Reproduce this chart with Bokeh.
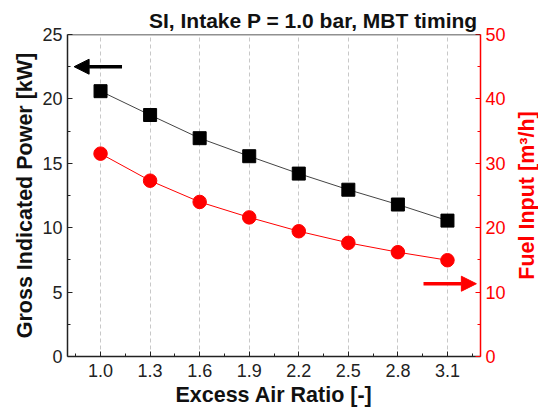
from bokeh.plotting import figure
from bokeh.layouts import row
from bokeh.models import (Range1d, LinearAxis, FixedTicker, Span, Arrow,
                          NormalHead, ColumnDataSource)
from bokeh.embed import file_html
from bokeh.resources import INLINE

# ---- data ----
excess_air = [1.0, 1.3, 1.6, 1.9, 2.2, 2.5, 2.8, 3.1]
gross_power_kw = [20.6, 18.75, 16.95, 15.55, 14.2, 12.95, 11.8, 10.55]
fuel_input_m3h = [31.5, 27.3, 24.0, 21.6, 19.45, 17.65, 16.2, 14.95]
x_tick_labels = ["1.0", "1.3", "1.6", "1.9", "2.2", "2.5", "2.8", "3.1"]
title_text = "SI, Intake P = 1.0 bar, MBT timing"
fuel_label = "Fuel Input [m\u00b3/h]"

FONT = "Liberation Sans"
RED = "#ff0000"
TOP, BOTTOM = 34, 57

p = figure(width=512, height=413, output_backend="svg", toolbar_location=None,
           x_range=Range1d(0.8, 3.3), y_range=Range1d(0, 25),
           min_border_left=67, min_border_right=32, min_border_top=TOP,
           min_border_bottom=BOTTOM, title=title_text)
p.extra_y_ranges = {"fuel": Range1d(0, 50)}
p.outline_line_color = None
p.background_fill_color = "white"
p.border_fill_color = "white"

p.title.align = "right"
p.title.text_font = FONT
p.title.text_font_size = "21px"
p.title.text_font_style = "bold"
p.title.text_color = "#111111"
p.title.standoff = 6
p.title.offset = 3

# grids
p.ygrid.visible = False
p.xgrid.ticker = FixedTicker(ticks=excess_air)
p.xgrid.grid_line_color = "#c8c8c8"
p.xgrid.grid_line_dash = "4 3"
p.xgrid.grid_line_width = 1

# x axis
xa = p.xaxis[0]
xa.ticker = FixedTicker(ticks=excess_air,
                        minor_ticks=[round(v + 0.15, 2) for v in excess_air] + [0.85])
xa.major_label_overrides = {v: s for v, s in zip(excess_air, x_tick_labels)}
xa.axis_label = "Excess Air Ratio [-]"

# left y axis
ya = p.yaxis[0]
ya.ticker = FixedTicker(ticks=[0, 5, 10, 15, 20, 25], minor_ticks=[2.5, 7.5, 12.5, 17.5, 22.5])
ya.axis_label = "Gross Indicated Power [kW]"

# right y axis (ticks only; its title is drawn by the side panel below)
ra = LinearAxis(y_range_name="fuel")
ra.ticker = FixedTicker(ticks=[0, 10, 20, 30, 40, 50], minor_ticks=[5, 15, 25, 35, 45])
p.add_layout(ra, "right")

for ax in (xa, ya, ra):
    ax.major_tick_in = 5
    ax.major_tick_out = 0
    ax.minor_tick_in = 3
    ax.minor_tick_out = 0
    ax.major_label_text_font = FONT
    ax.major_label_text_font_size = "18px"
    ax.axis_label_text_font = FONT
    ax.axis_label_text_font_size = "21.5px"
    ax.axis_label_text_font_style = "bold"
    ax.axis_line_width = 1.5

for ax in (xa, ya):
    ax.axis_line_color = "#222222"
    ax.major_tick_line_color = "#222222"
    ax.minor_tick_line_color = "#222222"
    ax.major_label_text_color = "#222222"
    ax.axis_label_text_color = "#111111"

xa.major_label_standoff = 7
xa.axis_label_standoff = 3
ya.major_label_standoff = 5
ya.axis_label_standoff = 2

ra.axis_line_color = RED
ra.major_tick_line_color = RED
ra.minor_tick_line_color = RED
ra.major_label_text_color = RED
ra.major_label_standoff = 5

# top border
p.add_layout(Span(location=25, dimension="width", line_color="#222222", line_width=1.5))

# series
src = ColumnDataSource(dict(x=excess_air, pw=gross_power_kw, fuel=fuel_input_m3h))
p.line("x", "pw", source=src, line_color="#444444", line_width=1)
p.scatter("x", "pw", source=src, marker="square", size=13,
          fill_color="black", line_color="black")
p.line("x", "fuel", source=src, y_range_name="fuel", line_color=RED, line_width=1)
p.scatter("x", "fuel", source=src, y_range_name="fuel", marker="circle", size=13.5,
          fill_color=RED, line_color=RED)

# arrows
p.add_layout(Arrow(x_start=1.13, y_start=22.5, x_end=0.84, y_end=22.5,
                   line_color="black", line_width=3.5,
                   end=NormalHead(size=15, fill_color="black", line_color="black")))
p.add_layout(Arrow(x_start=2.955, y_start=11.3, x_end=3.275, y_end=11.3,
                   y_range_name="fuel", line_color=RED, line_width=3.5,
                   end=NormalHead(size=15, fill_color=RED, line_color=RED)))

# narrow side panel carrying the right-hand axis title (reads bottom-to-top)
p2 = figure(width=26, height=413, output_backend="svg", toolbar_location=None,
            x_range=Range1d(0, 1), y_range=Range1d(0, 50),
            min_border_left=25, min_border_right=0, min_border_top=TOP,
            min_border_bottom=BOTTOM)
p2.outline_line_color = None
p2.background_fill_color = "white"
p2.border_fill_color = "white"
p2.grid.visible = False
p2.xaxis.visible = False
la = p2.yaxis[0]
la.ticker = FixedTicker(ticks=[])
la.axis_line_color = None
la.major_tick_line_color = None
la.minor_tick_line_color = None
la.major_label_text_font_size = "0px"
la.major_label_standoff = 0
la.axis_label = fuel_label
la.axis_label_standoff = 0
la.axis_label_text_font = FONT
la.axis_label_text_font_size = "21.5px"
la.axis_label_text_font_style = "bold"
la.axis_label_text_color = RED
p2.line(x=[0, 1], y=[0, 0], line_alpha=0)

layout = row(p, p2, spacing=0)
open("out.html", "w").write(file_html(layout, INLINE))
